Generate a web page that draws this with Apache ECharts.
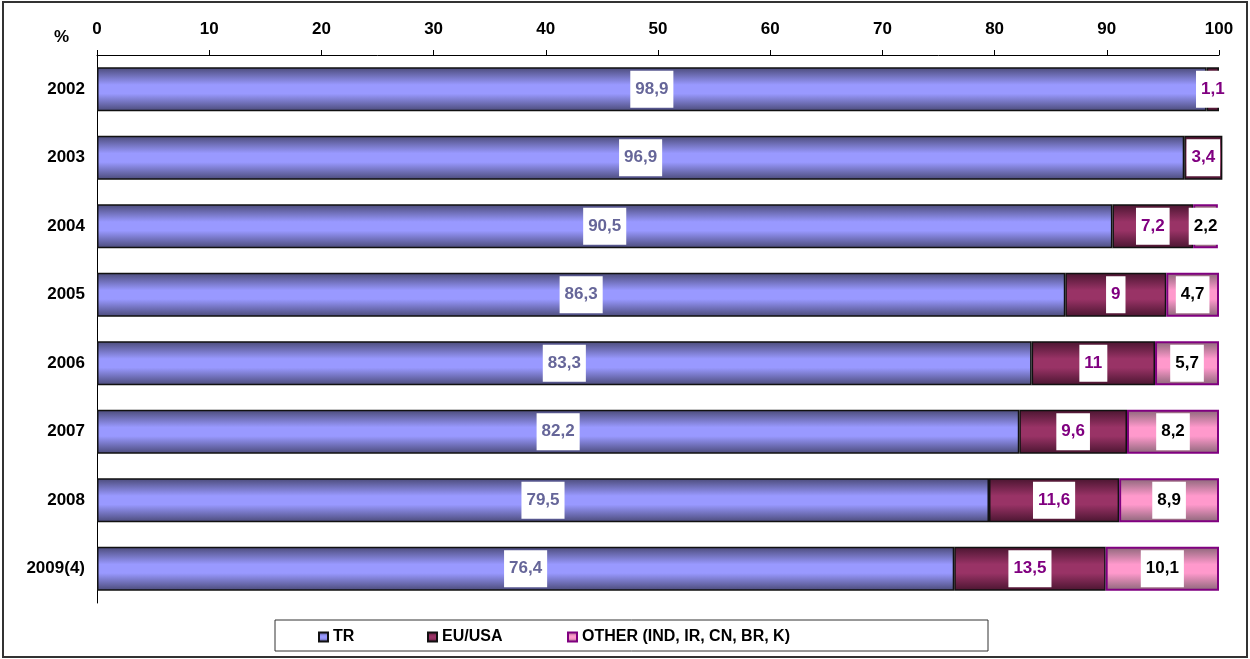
<meta charset="utf-8">
<script src="https://cdn.jsdelivr.net/npm/echarts@6.0.0/dist/echarts.min.js"></script>
<style>html,body{margin:0;padding:0;background:#fff}</style>
<body>
<div id="chart" style="width:1250px;height:659px"></div>
<script>

var years = ['2002','2003','2004','2005','2006','2007','2008','2009(4)'];
var trVals = [98.9, 96.9, 90.5, 86.3, 83.3, 82.2, 79.5, 76.4];
var euVals = [1.1, 3.4, 7.2, 9, 11, 9.6, 11.6, 13.5];
var otherVals = [null, null, 2.2, 4.7, 5.7, 8.2, 8.9, 10.1];
var xTicks = [0, 10, 20, 30, 40, 50, 60, 70, 80, 90, 100];
var seriesNames = ['TR', 'EU/USA', 'OTHER (IND, IR, CN, BR, K)'];

var FONT = 'Liberation Sans, Arial, sans-serif';

var grad = function(edge, mid){
	return new echarts.graphic.LinearGradient(0, 0, 0, 1, [
		{ offset: 0, color: edge },
		{ offset: 0.4, color: mid },
		{ offset: 0.6, color: mid },
		{ offset: 1, color: edge }
	]);
}

var lbl = function(color){
	return {
		show: true, position: 'inside', color: color, fontFamily: FONT, fontWeight: 'bold', fontSize: 17,
		backgroundColor: '#fff', padding: [11, 5, 9, 5], borderWidth: 0, textBorderWidth: 0,
		formatter: function(p){ return p.value == null ? '' : String(p.value).replace('.', ',') }
	}
}

// one legend per entry so the spacing follows the original
var legendX = [318, 427, 567];
var legends = seriesNames.map(function(n, i){
	return {
		left: legendX[i], top: 629, padding: 0, itemWidth: 9, itemHeight: 9, itemGap: 0, icon: 'rect',
		textStyle: { color: '#000', fontFamily: FONT, fontWeight: 'bold', fontSize: 16 },
		data: [n]
	}
})

var chart = echarts.init(document.getElementById('chart'));

var option = {
	animation: false,
	grid: { left: 97, right: 31, top: 55, bottom: 56 },
	xAxis: {
		type: 'value', position: 'top', min: 0, max: 100, interval: 10,
		axisLine: { show: true, lineStyle: { color: '#000', width: 1 } },
		axisTick: { show: true, length: 5, lineStyle: { color: '#000' } },
		splitLine: { show: false },
		axisLabel: { color: '#000', fontFamily: FONT, fontWeight: 'bold', fontSize: 17, margin: 17,
			formatter: function(v){ return xTicks.indexOf(v) >= 0 ? String(v) : '' } }
	},
	yAxis: {
		type: 'category', data: years, inverse: true,
		axisLine: { show: true, lineStyle: { color: '#000', width: 1 } },
		axisTick: { show: false },
		axisLabel: { color: '#000', fontFamily: FONT, fontWeight: 'bold', fontSize: 17, margin: 12 }
	},
	legend: legends,
	graphic: [
		{ type: 'rect', shape: { x: 3, y: 2, width: 1244, height: 655 }, style: { fill: 'none', stroke: '#333', lineWidth: 2 }, silent: true },
		{ type: 'rect', shape: { x: 275, y: 620, width: 713, height: 31 }, style: { fill: 'none', stroke: '#333', lineWidth: 1 }, silent: true },
		{ type: 'text', left: 54, top: 29, style: { text: '%', fill: '#000', font: 'bold 17px ' + FONT } }
	],
	series: [
		{
			name: seriesNames[0], type: 'bar', stack: 'all', barWidth: 44, clip: false, data: trVals,
			itemStyle: { color: grad('#4a4a78', '#9999ff'), borderColor: '#111', borderWidth: 1.5 },
			label: lbl('#666699')
		},
		{
			name: seriesNames[1], type: 'bar', stack: 'all', barWidth: 44, clip: false, data: euVals,
			itemStyle: { color: grad('#4a1530', '#993366'), borderColor: '#111', borderWidth: 1.5 },
			label: lbl('#800080')
		},
		{
			name: seriesNames[2], type: 'bar', stack: 'all', barWidth: 44, clip: false, data: otherVals,
			itemStyle: { color: grad('#8a6678', '#ff99cc'), borderColor: '#800080', borderWidth: 2 },
			label: lbl('#000')
		}
	]
};

chart.setOption(option);
</script>
</body>
